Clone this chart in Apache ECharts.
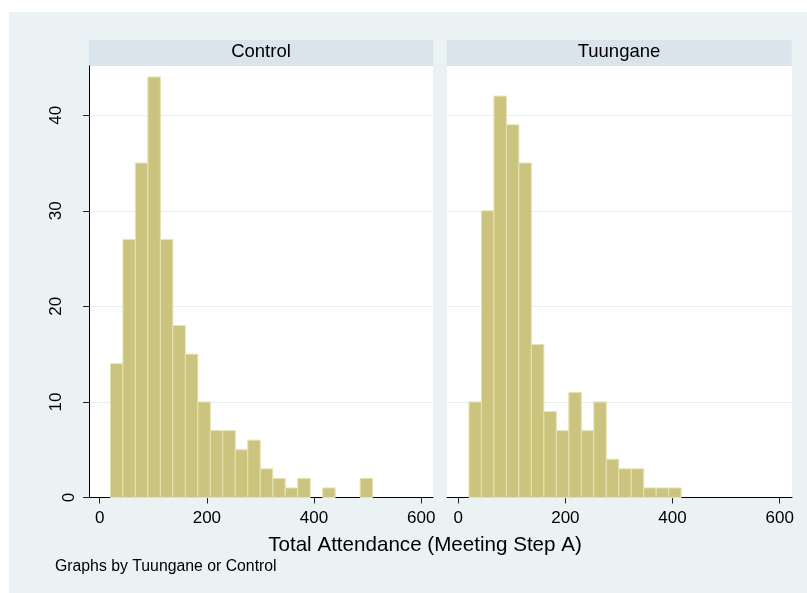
<!DOCTYPE html>
<html>
<head>
<meta charset="utf-8">
<script src="https://cdn.jsdelivr.net/npm/echarts@6/dist/echarts.min.js"></script>
<style>
html,body{margin:0;padding:0;background:#fff;}
#chart{width:807px;height:593px;}
</style>
</head>
<body>
<div id="chart"></div>
<script>
// ---- data ----
var panelTitles = ['Control', 'Tuungane'];
var binStart = 20;
var binWidth = 23.3;
var controlCounts = [14, 27, 35, 44, 27, 18, 15, 10, 7, 7, 5, 6, 3, 2, 1, 2, 0, 1, 0, 0, 2];
var tuunganeCounts = [10, 30, 42, 39, 35, 16, 9, 7, 11, 7, 10, 4, 3, 3, 1, 1, 1];
var xTicks = [0, 200, 400, 600];
var yTicks = [0, 10, 20, 30, 40];
var xTitle = 'Total Attendance (Meeting Step A)';
var note = 'Graphs by Tuungane or Control';

function bins(counts) {
  return counts.map(function (c, i) {
    return [binStart + i * binWidth, binStart + (i + 1) * binWidth, c];
  });
}

var FONT = '"Liberation Sans", Arial, Helvetica, sans-serif';
var BAR_FILL = '#CBC47E';
var BAR_EDGE = '#E7E2B2';
var GRID_COLOR = '#E6EFF1';

function renderBar(params, api) {
  var lo = api.value(0), hi = api.value(1), c = api.value(2);
  if (!c) return null;
  var p1 = api.coord([lo, c]);
  var p2 = api.coord([hi, 0]);
  return {
    type: 'rect',
    shape: { x: p1[0], y: p1[1], width: p2[0] - p1[0], height: p2[1] - p1[1] },
    style: { fill: BAR_FILL, stroke: BAR_EDGE, lineWidth: 1 }
  };
}

function xAxisOpt(idx) {
  return {
    type: 'value', gridIndex: idx, min: idx === 0 ? -20 : -21, max: idx === 0 ? 622 : 623,
    axisLine: { show: true, onZero: false, lineStyle: { color: '#000', width: 1 } },
    axisTick: { show: true, length: 6, customValues: xTicks, lineStyle: { color: '#222' } },
    axisLabel: { customValues: xTicks, margin: 12, color: '#000', fontSize: 17, fontFamily: FONT },
    splitLine: { show: false }
  };
}

var chart = echarts.init(document.getElementById('chart'), null, { renderer: 'canvas' });
chart.setOption({
  animation: false,
  backgroundColor: '#fff',
  grid: [
    { left: 89, top: 66, width: 344, height: 431.5, show: true, backgroundColor: '#fff', borderWidth: 0 },
    { left: 447, top: 66, width: 345, height: 431.5, show: true, backgroundColor: '#fff', borderWidth: 0 }
  ],
  xAxis: [xAxisOpt(0), xAxisOpt(1)],
  yAxis: [
    {
      type: 'value', gridIndex: 0, min: 0, max: 45.15,
      axisLine: { show: true, onZero: false, lineStyle: { color: '#000', width: 1 } },
      axisTick: { show: true, length: 6, customValues: yTicks, lineStyle: { color: '#222' } },
      axisLabel: {
        customValues: yTicks, rotate: 90, margin: 11, color: '#000', fontSize: 17, fontFamily: FONT,
        formatter: function (v) { return v === 0 ? '{z|0}' : '{n|' + v + '}'; },
        rich: {
          z: { fontSize: 17, fontFamily: FONT, color: '#000' },
          n: { fontSize: 17, fontFamily: FONT, color: '#000', padding: [0, 0, 13, 0] }
        }
      },
      splitLine: { show: true, lineStyle: { color: GRID_COLOR, width: 1 } }
    },
    {
      type: 'value', gridIndex: 1, min: 0, max: 45.15,
      axisLine: { show: false, onZero: false },
      axisTick: { show: false, customValues: yTicks },
      axisLabel: { show: false, customValues: yTicks },
      splitLine: { show: true, lineStyle: { color: GRID_COLOR, width: 1 } }
    }
  ],
  series: [
    { type: 'custom', xAxisIndex: 0, yAxisIndex: 0, renderItem: renderBar, data: bins(controlCounts), encode: { x: [0, 1], y: 2 } },
    { type: 'custom', xAxisIndex: 1, yAxisIndex: 1, renderItem: renderBar, data: bins(tuunganeCounts), encode: { x: [0, 1], y: 2 } }
  ],
  graphic: [
    { type: 'rect', z: -10, shape: { x: 9, y: 12, width: 798, height: 581 }, style: { fill: '#EAF2F3' } },
    { type: 'rect', z: -5, shape: { x: 89, y: 40, width: 344.3, height: 26 }, style: { fill: '#D9E5EA' } },
    { type: 'rect', z: -5, shape: { x: 446.7, y: 40, width: 345, height: 26 }, style: { fill: '#D9E5EA' } },
    { type: 'text', z: 5, x: 261, y: 52, style: { text: panelTitles[0], fill: '#000', font: '18.5px ' + FONT, textAlign: 'center', textVerticalAlign: 'middle' } },
    { type: 'text', z: 5, x: 619, y: 52, style: { text: panelTitles[1], fill: '#000', font: '18.5px ' + FONT, textAlign: 'center', textVerticalAlign: 'middle' } },
    { type: 'text', z: 5, x: 425, y: 545, style: { text: xTitle, fill: '#000', font: '20.6px ' + FONT, textAlign: 'center', textVerticalAlign: 'middle' } },
    { type: 'text', z: 5, x: 55, y: 567, style: { text: note, fill: '#000', font: '15.8px ' + FONT, textAlign: 'left', textVerticalAlign: 'middle' } }
  ]
});
</script>
</body>
</html>
